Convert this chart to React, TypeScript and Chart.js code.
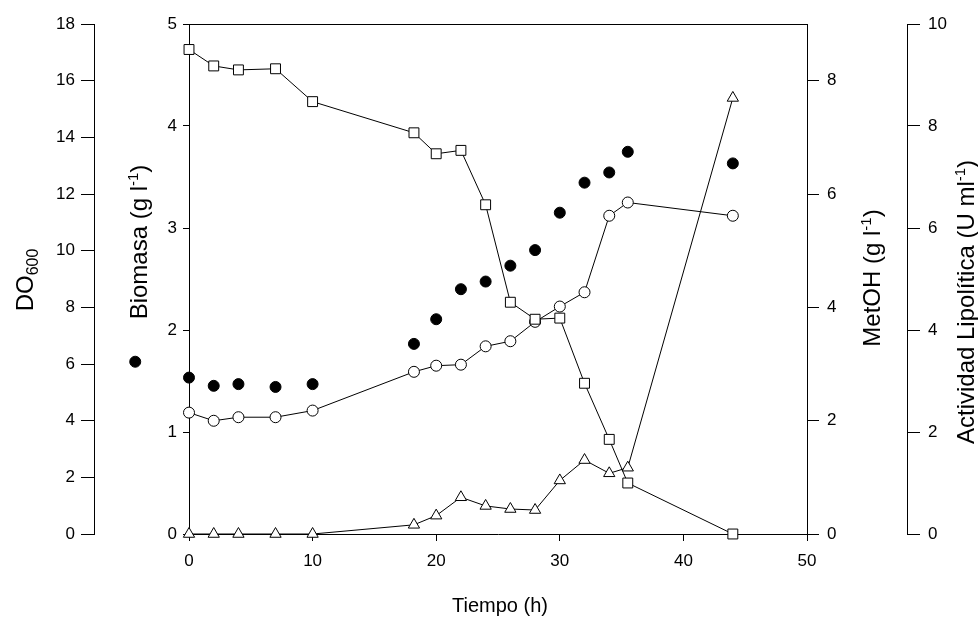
import React, { useEffect, useRef } from 'react';
import { Chart, registerables } from 'chart.js';

Chart.register(...registerables);

// ---- data ----
const timeH = [0, 2, 4, 7, 10, 18.2, 20, 22, 24, 26, 28, 30, 32, 34, 35.5, 44];
const timeDO = [-4.35, 0, 2, 4, 7, 10, 18.2, 20, 22, 24, 26, 28, 30, 32, 34, 35.5, 44];
const do600 = [6.08, 5.52, 5.23, 5.29, 5.19, 5.29, 6.71, 7.58, 8.64, 8.91, 9.47, 10.02, 11.34, 12.4, 12.76, 13.49, 13.08];
const biomasa = [1.19, 1.11, 1.145, 1.145, 1.21, 1.59, 1.65, 1.66, 1.84, 1.89, 2.08, 2.23, 2.37, 3.12, 3.25, 3.12];
const metoh = [8.55, 8.26, 8.19, 8.21, 7.63, 7.08, 6.71, 6.77, 5.81, 4.09, 3.79, 3.81, 2.66, 1.67, 0.9, 0];
const lipolitica = [0, 0, 0, 0, 0, 0.18, 0.36, 0.72, 0.55, 0.49, 0.47, 1.05, 1.45, 1.19, 1.3, 8.55];

const xTitle = 'Tiempo (h)';
const FONT = "'Liberation Sans', Arial, Helvetica, sans-serif";

type Part = { t: string; size: number; shift: number };

function drawRich(ctx: CanvasRenderingContext2D, parts: Part[], x: number, y: number, rotate: boolean) {
  ctx.save();
  ctx.translate(x, y);
  if (rotate) ctx.rotate(-Math.PI / 2);
  ctx.fillStyle = '#000';
  ctx.textBaseline = 'alphabetic';
  ctx.textAlign = 'left';
  let total = 0;
  const widths: number[] = [];
  for (const p of parts) {
    ctx.font = `${p.size}px ${FONT}`;
    const w = ctx.measureText(p.t).width;
    widths.push(w);
    total += w;
  }
  let cur = -total / 2;
  parts.forEach((p, i) => {
    ctx.font = `${p.size}px ${FONT}`;
    ctx.fillText(p.t, cur, p.shift);
    cur += widths[i];
  });
  ctx.restore();
}

const framePlugin = {
  id: 'frameAndTitles',
  afterDatasetsDraw(chart: any) {
    // draw points that lie left of the plotting area (the library skips them)
    const { ctx, chartArea } = chart;
    chart.data.datasets.forEach((_d: any, di: number) => {
      const meta = chart.getDatasetMeta(di);
      meta.data.forEach((el: any) => {
        if (el.x < chartArea.left - 3) el.draw(ctx);
      });
    });
  },
  afterDraw(chart: any) {
    const { ctx, chartArea } = chart;
    ctx.save();
    ctx.strokeStyle = '#000';
    ctx.lineWidth = 1;
    const yTop = Math.round(chartArea.top) + 0.5;
    ctx.beginPath();
    ctx.moveTo(chartArea.left, yTop);
    ctx.lineTo(chartArea.right, yTop);
    ctx.stroke();
    ctx.restore();

    drawRich(ctx, [{ t: 'DO', size: 24, shift: 0 }, { t: '600', size: 16, shift: 5 }], 33, 280, true);
    drawRich(ctx, [{ t: 'Biomasa (g l', size: 24, shift: 0 }, { t: '-1', size: 15, shift: -9 }, { t: ')', size: 24, shift: 0 }], 147, 242, true);
    drawRich(ctx, [{ t: 'MetOH (g l', size: 24, shift: 0 }, { t: '-1', size: 15, shift: -9 }, { t: ')', size: 24, shift: 0 }], 880, 278, true);
    drawRich(ctx, [{ t: 'Actividad Lipolítica (U ml', size: 24, shift: 0 }, { t: '-1', size: 15, shift: -9 }, { t: ')', size: 24, shift: 0 }], 974, 302, true);
    drawRich(ctx, [{ t: xTitle, size: 20, shift: 0 }], 500, 612, false);
  },
};

const tickFont = { family: FONT, size: 17 };

export default function App() {
  const ref = useRef<HTMLCanvasElement | null>(null);
  useEffect(() => {
    if (!ref.current) return;
    const common = { borderColor: '#000', borderWidth: 1, pointBorderColor: '#000', pointBorderWidth: 1, clip: false as any };
    const chart = new Chart(ref.current, {
      type: 'scatter',
      data: {
        datasets: [
          {
            ...common,
            label: 'MetOH',
            data: timeH.map((t, i) => ({ x: t, y: metoh[i] })),
            yAxisID: 'yMet',
            showLine: true,
            pointStyle: 'rect',
            pointRadius: 7,
            pointBackgroundColor: '#fff',
            order: 0,
          },
          {
            ...common,
            label: 'Actividad',
            data: timeH.map((t, i) => ({ x: t, y: lipolitica[i] })),
            yAxisID: 'yAct',
            showLine: true,
            pointStyle: 'triangle',
            pointRadius: 6.5,
            pointBackgroundColor: '#fff',
            order: 1,
          },
          {
            ...common,
            label: 'Biomasa',
            data: timeH.map((t, i) => ({ x: t, y: biomasa[i] })),
            yAxisID: 'yBio',
            showLine: true,
            pointStyle: 'circle',
            pointRadius: 5.5,
            pointBackgroundColor: '#fff',
            order: 2,
          },
          {
            ...common,
            label: 'DO600',
            data: timeDO.map((t, i) => ({ x: t, y: do600[i] })),
            yAxisID: 'yDO',
            showLine: false,
            pointStyle: 'circle',
            pointRadius: 5.5,
            pointBackgroundColor: '#000',
            order: 3,
          },
        ],
      },
      options: {
        responsive: false,
        animation: false,
        devicePixelRatio: 1,
        layout: { padding: { top: 24, left: 0, right: 0, bottom: 0 } },
        plugins: { legend: { display: false }, tooltip: { enabled: false } },
        scales: {
          x: {
            type: 'linear',
            position: 'bottom',
            min: 0,
            max: 50,
            ticks: { stepSize: 10, padding: 10, font: tickFont, color: '#000' },
            grid: { drawOnChartArea: false, tickLength: 7, color: '#000' },
            border: { color: '#000', width: 1 },
            afterFit: (s: any) => { s.height = 83; },
          },
          yBio: {
            type: 'linear',
            position: 'left',
            weight: 0,
            min: 0,
            max: 5,
            ticks: { stepSize: 1, padding: 6, font: tickFont, color: '#000' },
            grid: { drawOnChartArea: false, tickLength: 6, color: '#000' },
            border: { color: '#000', width: 1 },
            afterFit: (s: any) => { s.width = 95; },
          },
          yDO: {
            type: 'linear',
            position: 'left',
            weight: 1,
            min: 0,
            max: 18,
            ticks: { stepSize: 2, padding: 6, font: tickFont, color: '#000' },
            grid: { drawOnChartArea: false, tickLength: 13, color: '#000' },
            border: { color: '#000', width: 1 },
            afterFit: (s: any) => { s.width = 94; },
          },
          yMet: {
            type: 'linear',
            position: 'right',
            weight: 0,
            min: 0,
            max: 9,
            ticks: { stepSize: 2, padding: 8, font: tickFont, color: '#000' },
            afterBuildTicks: (s: any) => { s.ticks = s.ticks.filter((t: any) => t.value % 2 === 0); },
            grid: { drawOnChartArea: false, tickLength: 12, color: '#000' },
            border: { color: '#000', width: 1 },
            afterFit: (s: any) => { s.width = 100; },
          },
          yAct: {
            type: 'linear',
            position: 'right',
            weight: 1,
            min: 0,
            max: 10,
            ticks: { stepSize: 2, padding: 8, font: tickFont, color: '#000' },
            grid: { drawOnChartArea: false, tickLength: 13, color: '#000' },
            border: { color: '#000', width: 1 },
            afterFit: (s: any) => { s.width = 71; },
          },
        },
      } as any,
      plugins: [framePlugin],
    });
    return () => chart.destroy();
  }, []);

  return (
    <canvas
      ref={ref}
      width={978}
      height={617}
      style={{ position: 'absolute', left: 0, top: 0, width: 978, height: 617 }}
    />
  );
}
